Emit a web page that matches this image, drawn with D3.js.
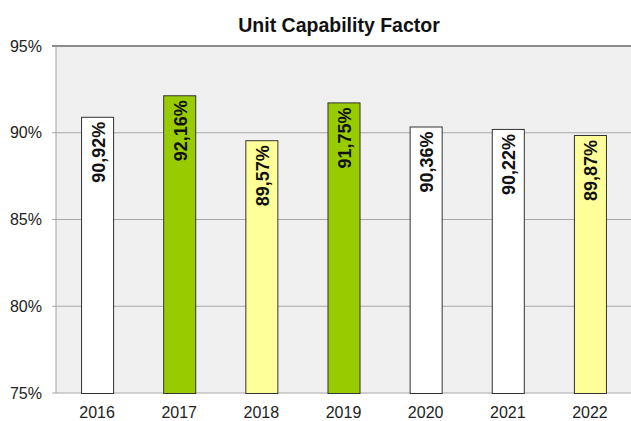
<!DOCTYPE html>
<html>
<head>
<meta charset="utf-8">
<script src="https://cdn.jsdelivr.net/npm/d3@7"></script>
<style>
  body { margin: 0; background: #fff; }
  svg { display: block; font-family: "Liberation Sans", Arial, sans-serif; }
</style>
</head>
<body>
<svg></svg>
<script>
var width = 631;
var height = 421;

// data
var years = ["2016", "2017", "2018", "2019", "2020", "2021", "2022"];
var values = [90.92, 92.16, 89.57, 91.75, 90.36, 90.22, 89.87];
var barColors = ["#ffffff", "#99cc00", "#ffff99", "#99cc00", "#ffffff", "#ffffff", "#ffff99"];
var yTicks = [75, 80, 85, 90, 95];

var margin = { top: 46, right: 0, bottom: 28, left: 56 };

var svg = d3.select("svg")
            .attr("width", width)
            .attr("height", height);

var x = d3.scaleBand()
          .domain(years)
          .range([margin.left, width])
          .paddingInner(0.61)
          .paddingOuter(0.305);

var y = d3.scaleLinear()
          .domain([75, 95])
          .range([height - margin.bottom, margin.top]);

// plot background
svg.append("rect")
    .attr("x", margin.left)
    .attr("y", margin.top)
    .attr("width", width - margin.left)
    .attr("height", y(75) - y(95))
    .attr("fill", "#f0f0f0");

// gridlines
svg.append("g")
    .selectAll("line")
    .data(yTicks)
    .enter()
    .append("line")
        .attr("x1", margin.left - 4)
        .attr("x2", width)
        .attr("y1", d => y(d))
        .attr("y2", d => y(d))
        .attr("stroke", d => d == 95 ? "#8c8c8c" : "#a8a8a8")
        .attr("stroke-width", d => d == 95 ? 2 : 1);

// left axis line
svg.append("line")
    .attr("x1", margin.left)
    .attr("x2", margin.left)
    .attr("y1", y(95))
    .attr("y2", y(75))
    .attr("stroke", "#a0a0a0");

// y labels
svg.append("g")
    .selectAll("text")
    .data(yTicks)
    .enter()
    .append("text")
        .attr("x", 42)
        .attr("y", d => y(d))
        .attr("dy", "0.35em")
        .attr("text-anchor", "end")
        .style("font-size", "16px")
        .attr("fill", "#222")
        .text(d => d + "%");

// x labels
svg.append("g")
    .selectAll("text")
    .data(years)
    .enter()
    .append("text")
        .attr("x", d => x(d) + x.bandwidth() / 2)
        .attr("y", 418)
        .attr("text-anchor", "middle")
        .style("font-size", "16px")
        .attr("fill", "#222")
        .text(d => d);

// bars
var bars = svg.append("g")
    .selectAll("g")
    .data(years)
    .enter()
    .append("g");

bars.append("rect")
    .attr("x", d => x(d) + 0.5)
    .attr("y", (d, i) => y(values[i]) + 0.5)
    .attr("width", x.bandwidth())
    .attr("height", (d, i) => y(75) - y(values[i]))
    .attr("fill", (d, i) => barColors[i])
    .attr("stroke", "#333")
    .attr("stroke-width", 1);

bars.append("text")
    .attr("transform", (d, i) => "translate(" + (x(d) + x.bandwidth() / 2 + 1) + "," + (y(values[i]) + 5) + ") rotate(-90)")
    .attr("text-anchor", "end")
    .attr("dy", "0.36em")
    .style("font-size", "18px")
    .style("font-weight", "bold")
    .attr("fill", "#111")
    .text((d, i) => d3.format(".2f")(values[i]).replace(".", ",") + "%");

// title
svg.append("text")
    .attr("x", 339)
    .attr("y", 31.5)
    .attr("text-anchor", "middle")
    .style("font-size", "19.5px")
    .style("font-weight", "bold")
    .attr("fill", "#111")
    .text("Unit Capability Factor");
</script>
</body>
</html>
